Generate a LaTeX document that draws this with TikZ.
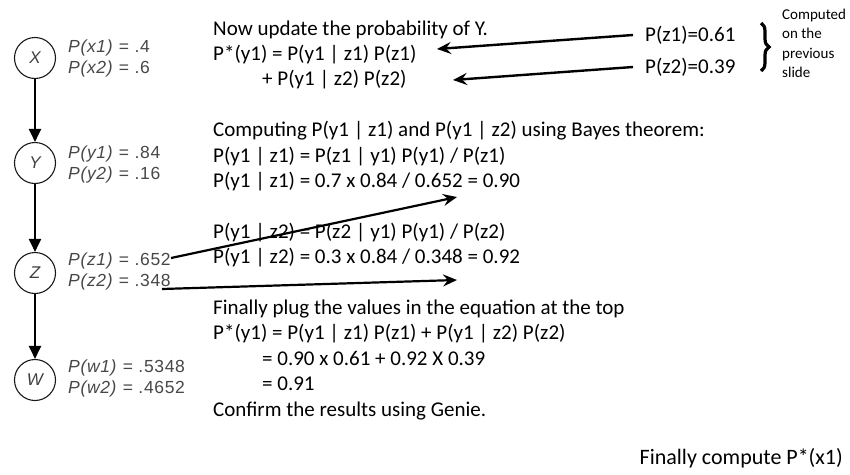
\documentclass[tikz,border=0pt]{standalone}
\usepackage{fontspec}
\setmainfont{Carlito}
\newfontfamily\genie[LetterSpace=3.8]{Liberation Sans}
\usetikzlibrary{arrows.meta,decorations.pathreplacing}

\begin{document}
\begin{tikzpicture}[x=1pt,y=-1pt,
  bn/.style={circle,draw=black!90,line width=1.1pt,minimum size=41pt,inner sep=0pt,
    font=\genie\fontsize{17}{17}\selectfont\itshape,text=black!75},
  prob/.style={anchor=west,inner sep=0pt,align=left,
    font=\genie\fontsize{17.5}{21}\selectfont,text=black!72},
  body/.style={anchor=base west,inner sep=0pt,font=\fontsize{21}{25}\selectfont},
  note/.style={anchor=north west,inner sep=0pt,align=left,font=\fontsize{15}{19.3}\selectfont},
  link/.style={-{Triangle[length=13pt,width=12pt]},line width=2pt},
  ptr/.style={-{Stealth[length=14pt,width=12pt,inset=5pt]},line width=2.4pt},
]
\useasboundingbox (0,0) rectangle (850,474);

% Bayesian network chain X -> Y -> Z -> W
\node[bn] (X) at (35,58)  {X};
\node[bn] (Y) at (35,163) {Y};
\node[bn] (Z) at (35,273) {Z};
\node[bn] (W) at (35,380) {W};
\draw[link] (X) -- (Y);
\draw[link] (Y) -- (Z);
\draw[link] (Z) -- (W);

% probability tables beside each node
\newcommand{\pp}[1]{\textit{P(#1)}}
\node[prob] (px) at (68,58)  {\pp{x1} = .4\\\pp{x2} = .6};
\node[prob] (py) at (68,164) {\pp{y1} = .84\\\pp{y2} = .16};
\node[prob] (pz) at (68,271) {\pp{z1} = .652\\\pp{z2} = .348};
\node[prob] (pw) at (68,378) {\pp{w1} = .5348\\\pp{w2} = .4652};

% explanation text
\node[body] (l1)  at (213,35)    {Now update the probability of Y.};
\node[body] (l2)  at (213,60.4)  {P*(y1) = P(y1 | z1) P(z1)};
\node[body] (l3)  at (262,85.8)  {+ P(y1 | z2) P(z2)};
\node[body] (l5)  at (213,136.6) {Computing P(y1 | z1) and P(y1 | z2) using Bayes theorem:};
\node[body] (l6)  at (213,162)   {P(y1 | z1) = P(z1 | y1) P(y1) / P(z1)};
\node[body] (l7)  at (213,187.4) {P(y1 | z1) = 0.7 x 0.84 / 0.652 = 0.90};
\node[body] (l9)  at (213,238.2) {P(y1 | z2) = P(z2 | y1) P(y1) / P(z2)};
\node[body] (l10) at (213,263.6) {P(y1 | z2) = 0.3 x 0.84 / 0.348 = 0.92};
\node[body] (l12) at (213,314.4) {Finally plug the values in the equation at the top};
\node[body] (l13) at (213,339.8) {P*(y1) = P(y1 | z1) P(z1) + P(y1 | z2) P(z2)};
\node[body] (l14) at (262,365.2) {= 0.90 x 0.61 + 0.92 X 0.39};
\node[body] (l15) at (262,390.6) {= 0.91};
\node[body] (l16) at (213,416)   {Confirm the results using Genie.};
\node[anchor=base east,inner sep=0pt,font=\fontsize{22}{26}\selectfont] (fin) at (843,464) {Finally compute P*(x1)};

% values from the previous step
\node[anchor=west,inner sep=0pt,font=\fontsize{21}{25}\selectfont] (qa) at (645,35) {P(z1)=0.61};
\node[anchor=west,inner sep=0pt,font=\fontsize{21}{25}\selectfont] (qb) at (645,67) {P(z2)=0.39};
\draw[decorate,decoration={brace,amplitude=8pt,aspect=0.5},line width=3.2pt] (761,23) -- (761,71);
\node[note] (src) at (782,9) {Computed\\on the\\previous\\slide};

% pointers
\coordinate (ta) at (437,49);
\coordinate (tb) at (453,80);
\draw[ptr] ([xshift=-12pt]qa.west) -- (ta);
\draw[ptr] ([xshift=-12pt]qb.west) -- (tb);

\coordinate (za) at (171,258);
\coordinate (zb) at (162,289);
\coordinate (tc) at (457,197);
\coordinate (td) at (457,280);
\draw[ptr,line width=2.2pt] (za) -- (tc);
\draw[ptr,line width=2.2pt] (zb) -- (td);
\end{tikzpicture}
\end{document}
